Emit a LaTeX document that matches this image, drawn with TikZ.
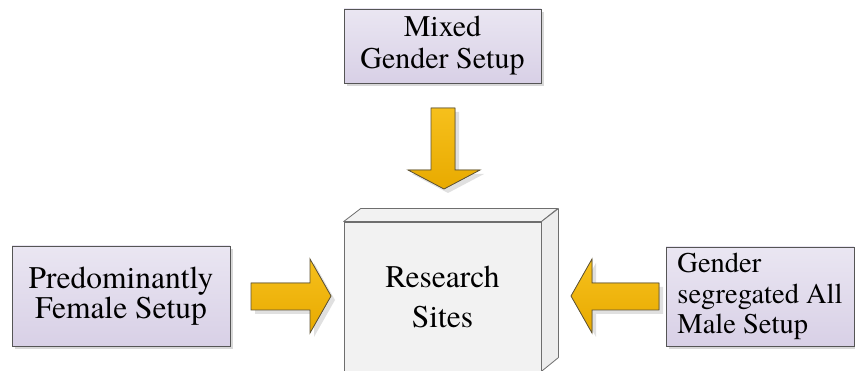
\documentclass[tikz,border=0pt]{standalone}
\usepackage{fontspec}
\setmainfont{texgyretermes-regular.otf}
\usetikzlibrary{shadows}

\definecolor{boxtop}{HTML}{EAE6F2}
\definecolor{boxbottom}{HTML}{D8D0E6}
\definecolor{boxline}{HTML}{555555}
\definecolor{arrowtop}{HTML}{F6C01C}
\definecolor{arrowbottom}{HTML}{E8AA00}
\definecolor{arrowline}{HTML}{5E5336}
\definecolor{cubefront}{HTML}{F2F2F2}
\definecolor{cubeside}{HTML}{EDEDED}
\definecolor{cubeline}{HTML}{6E6E6E}

\tikzset{
  setupbox/.style={draw=boxline, line width=0.8pt, top color=boxtop, bottom color=boxbottom,
    drop shadow={shadow xshift=3pt, shadow yshift=-3pt, fill=black!30, opacity=0.5},
    font=\fontsize{30}{32}\selectfont, align=center, inner sep=0pt},
  blockarrow/.style={draw=arrowline, line width=0.8pt, top color=arrowtop, bottom color=arrowbottom,
    drop shadow={shadow xshift=4pt, shadow yshift=-4pt, fill=black!30, opacity=0.4}},
  cubeface/.style={draw=cubeline, line width=0.8pt, line join=round}
}

\begin{document}
\begin{tikzpicture}[x=1pt, y=-1pt]
 \useasboundingbox (0,0) rectangle (855,371);

 % the three setups
 \node[setupbox, minimum width=197pt, minimum height=74pt] (mixed) at (442.5,46) {Mixed\\Gender Setup};
 \node[setupbox, minimum width=218pt, minimum height=100pt,
       font=\fontsize{31.5}{30}\selectfont] (female) at (121,296) {Predominantly\\Female Setup};
 \node[setupbox, minimum width=188pt, minimum height=99pt, align=left,
       font=\fontsize{28.5}{30.5}\selectfont] (male) at (760,296.5) {Gender\\segregated All\\Male Setup};

 % research sites as a block
 \node[cubeface, fill=cubefront, minimum width=197pt, minimum height=149pt, inner sep=0pt,
       align=center, font=\fontsize{31.5}{40}\selectfont] (sites) at (442.5,296.5) {Research\\Sites};
 \filldraw[cubeface, fill=cubefront] (sites.north west) -- ++(17,-13) -- ++(197,0) -- (sites.north east) -- cycle;
 \filldraw[cubeface, fill=cubeside] (sites.north east) -- ++(17,-13) -- ++(0,149) -- (sites.south east) -- cycle;

 % arrows into the sites
 \filldraw[blockarrow] (431,108) -- (455,108) -- (455,170) -- (480,170) -- (444,189) -- (408,170) -- (431,170) -- cycle;
 \filldraw[blockarrow] (251,283) -- (310,283) -- (310,259) -- (331,296) -- (310,333) -- (310,310) -- (251,310) -- cycle;
 \filldraw[blockarrow] (659,283) -- (592,283) -- (592,259) -- (571,296) -- (592,333) -- (592,310) -- (659,310) -- cycle;

\end{tikzpicture}
\end{document}
